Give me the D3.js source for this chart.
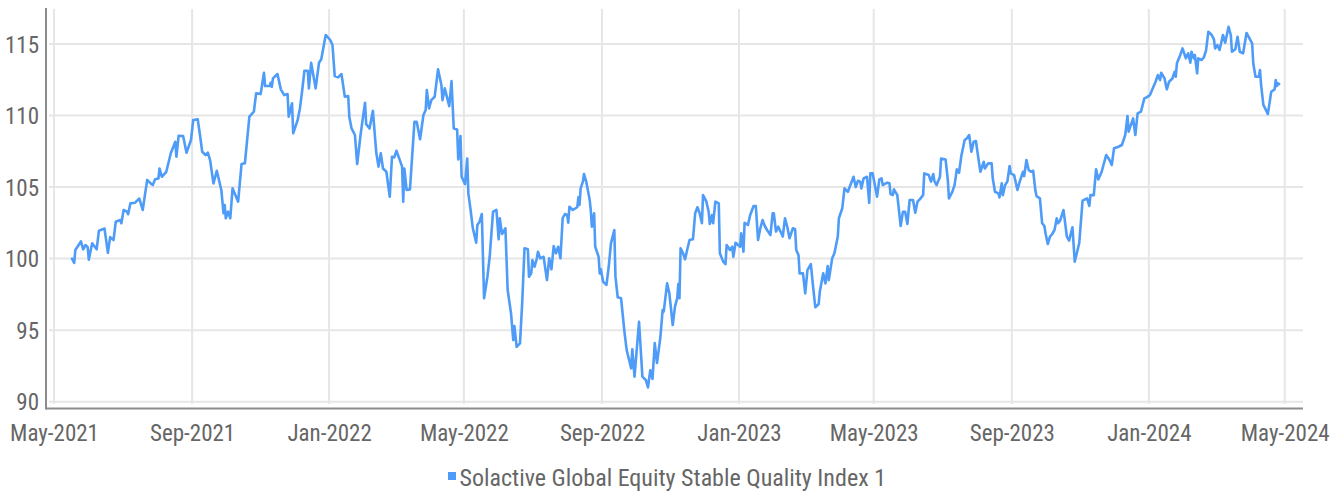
<!DOCTYPE html>
<html><head><meta charset="utf-8">
<script src="https://cdn.jsdelivr.net/npm/d3@7"></script>
<style>html,body{margin:0;padding:0;background:#fff;}svg{display:block;}</style>
</head><body><svg id="c" width="1344" height="493"></svg>
<script>
const dates = [
"2021-05-17","2021-05-19","2021-05-20","2021-05-25","2021-05-27","2021-05-29","2021-05-31","2021-06-01","2021-06-04","2021-06-08",
"2021-06-10","2021-06-15","2021-06-18","2021-06-20","2021-06-23","2021-06-25","2021-06-29","2021-06-30","2021-07-02","2021-07-05",
"2021-07-06","2021-07-08","2021-07-12","2021-07-16","2021-07-19","2021-07-23","2021-07-26","2021-07-28","2021-07-30","2021-08-02",
"2021-08-03","2021-08-05","2021-08-09","2021-08-13","2021-08-17","2021-08-18","2021-08-20","2021-08-24","2021-08-27","2021-08-31",
"2021-09-02","2021-09-06","2021-09-08","2021-09-10","2021-09-13","2021-09-15","2021-09-17","2021-09-20","2021-09-23","2021-09-27",
"2021-09-29","2021-09-30","2021-10-01","2021-10-03","2021-10-05","2021-10-07","2021-10-12","2021-10-15","2021-10-18","2021-10-22",
"2021-10-26","2021-10-28","2021-11-01","2021-11-04","2021-11-05","2021-11-09","2021-11-10","2021-11-11","2021-11-12","2021-11-16",
"2021-11-19","2021-11-22","2021-11-25","2021-11-26","2021-11-29","2021-11-30","2021-12-04","2021-12-06","2021-12-08","2021-12-10",
"2021-12-13","2021-12-14","2021-12-16","2021-12-20","2021-12-23","2021-12-25","2021-12-29","2022-01-02","2022-01-04","2022-01-06",
"2022-01-09","2022-01-12","2022-01-15","2022-01-18","2022-01-19","2022-01-21","2022-01-24","2022-01-26","2022-01-29","2022-01-31",
"2022-02-02","2022-02-03","2022-02-06","2022-02-09","2022-02-12","2022-02-14","2022-02-16","2022-02-18","2022-02-21","2022-02-24",
"2022-02-26","2022-02-28","2022-03-02","2022-03-07","2022-03-08","2022-03-09","2022-03-11","2022-03-14","2022-03-18","2022-03-20",
"2022-03-23","2022-03-26","2022-03-28","2022-03-29","2022-03-31","2022-04-02","2022-04-05","2022-04-08","2022-04-11","2022-04-12",
"2022-04-14","2022-04-18","2022-04-20","2022-04-22","2022-04-25","2022-04-26","2022-04-28","2022-04-29","2022-05-02","2022-05-04",
"2022-05-05","2022-05-07","2022-05-09","2022-05-12","2022-05-13","2022-05-15","2022-05-17","2022-05-19","2022-05-22","2022-05-24",
"2022-05-27","2022-05-30","2022-06-01","2022-06-02","2022-06-04","2022-06-07","2022-06-09","2022-06-12","2022-06-14","2022-06-15",
"2022-06-17","2022-06-20","2022-06-22","2022-06-24","2022-06-27","2022-06-28","2022-06-30","2022-07-01","2022-07-03","2022-07-05",
"2022-07-06","2022-07-08","2022-07-11","2022-07-14","2022-07-16","2022-07-18","2022-07-20","2022-07-22","2022-07-24","2022-07-26",
"2022-07-28","2022-07-30","2022-08-01","2022-08-02","2022-08-03","2022-08-06","2022-08-10","2022-08-11","2022-08-12","2022-08-13",
"2022-08-15","2022-08-16","2022-08-18","2022-08-21","2022-08-22","2022-08-23","2022-08-25","2022-08-26","2022-08-29","2022-08-30",
"2022-08-31","2022-09-02","2022-09-05","2022-09-07","2022-09-09","2022-09-12","2022-09-13","2022-09-15","2022-09-18","2022-09-21",
"2022-09-23","2022-09-27","2022-09-28","2022-09-30","2022-10-04","2022-10-07","2022-10-10","2022-10-12","2022-10-14","2022-10-16",
"2022-10-18","2022-10-20","2022-10-23","2022-10-25","2022-10-26","2022-10-29","2022-10-31","2022-11-03","2022-11-05","2022-11-07",
"2022-11-08","2022-11-09","2022-11-10","2022-11-12","2022-11-14","2022-11-16","2022-11-18","2022-11-21","2022-11-23","2022-11-25",
"2022-11-27","2022-11-29","2022-11-30","2022-12-03","2022-12-05","2022-12-06","2022-12-08","2022-12-09","2022-12-11","2022-12-14",
"2022-12-15","2022-12-18","2022-12-20","2022-12-21","2022-12-24","2022-12-26","2022-12-27","2022-12-29","2023-01-02","2023-01-03",
"2023-01-05","2023-01-06","2023-01-09","2023-01-11","2023-01-14","2023-01-16","2023-01-18","2023-01-20","2023-01-22","2023-01-24",
"2023-01-26","2023-01-29","2023-01-31","2023-02-01","2023-02-03","2023-02-05","2023-02-07","2023-02-09","2023-02-11","2023-02-13",
"2023-02-15","2023-02-18","2023-02-20","2023-02-21","2023-02-23","2023-02-24","2023-02-27","2023-03-01","2023-03-03","2023-03-06",
"2023-03-08","2023-03-10","2023-03-13","2023-03-14","2023-03-17","2023-03-19","2023-03-21","2023-03-22","2023-03-25","2023-03-27",
"2023-03-30","2023-03-31","2023-04-03","2023-04-05","2023-04-08","2023-04-13","2023-04-15","2023-04-17","2023-04-19","2023-04-20",
"2023-04-22","2023-04-25","2023-04-27","2023-04-28","2023-04-30","2023-05-04","2023-05-06","2023-05-08","2023-05-09","2023-05-13",
"2023-05-15","2023-05-16","2023-05-18","2023-05-19","2023-05-22","2023-05-25","2023-05-27","2023-05-29","2023-05-31","2023-06-02",
"2023-06-05","2023-06-07","2023-06-09","2023-06-11","2023-06-14","2023-06-15","2023-06-19","2023-06-21","2023-06-23","2023-06-24",
"2023-06-26","2023-06-29","2023-06-30","2023-07-04","2023-07-06","2023-07-07","2023-07-10","2023-07-12","2023-07-14","2023-07-16",
"2023-07-18","2023-07-21","2023-07-23","2023-07-25","2023-07-27","2023-07-29","2023-07-31","2023-08-02","2023-08-04","2023-08-07",
"2023-08-08","2023-08-11","2023-08-14","2023-08-15","2023-08-17","2023-08-20","2023-08-21","2023-08-23","2023-08-24","2023-08-26",
"2023-08-28","2023-08-30","2023-08-31","2023-09-03","2023-09-06","2023-09-08","2023-09-11","2023-09-12","2023-09-14","2023-09-16",
"2023-09-18","2023-09-20","2023-09-22","2023-09-23","2023-09-26","2023-09-28","2023-09-30","2023-10-01","2023-10-03","2023-10-05",
"2023-10-07","2023-10-09","2023-10-11","2023-10-12","2023-10-14","2023-10-17","2023-10-20","2023-10-22","2023-10-25","2023-10-27",
"2023-10-31","2023-11-03","2023-11-07","2023-11-09","2023-11-10","2023-11-13","2023-11-15","2023-11-17","2023-11-20","2023-11-24",
"2023-11-27","2023-11-29","2023-12-01","2023-12-05","2023-12-08","2023-12-11","2023-12-13","2023-12-14","2023-12-18","2023-12-20",
"2023-12-22","2023-12-25","2023-12-28","2023-12-30","2024-01-02","2024-01-07","2024-01-09","2024-01-11","2024-01-12","2024-01-15",
"2024-01-17","2024-01-19","2024-01-22","2024-01-24","2024-01-25","2024-01-26","2024-01-29","2024-01-31","2024-02-03","2024-02-05",
"2024-02-07","2024-02-08","2024-02-10","2024-02-11","2024-02-13","2024-02-14","2024-02-17","2024-02-19","2024-02-21","2024-02-23",
"2024-02-26","2024-02-28","2024-02-29","2024-03-02","2024-03-04","2024-03-07","2024-03-09","2024-03-12","2024-03-14","2024-03-15",
"2024-03-18","2024-03-20","2024-03-22","2024-03-25","2024-03-28","2024-04-02","2024-04-03","2024-04-05","2024-04-08","2024-04-09",
"2024-04-10","2024-04-12","2024-04-15","2024-04-16","2024-04-19","2024-04-22","2024-04-23","2024-04-24","2024-04-25","2024-04-26"
];
const values = [
100.0,99.7,100.6,101.2,100.65,100.95,100.8,99.93,101.07,100.65,
101.95,102.1,100.4,101.5,101.3,102.58,102.7,102.47,103.4,103.28,
103.1,103.86,103.9,104.2,103.4,105.5,105.26,105.14,105.54,105.6,
106.3,105.72,106.07,107.36,108.17,107.12,108.59,108.57,107.4,108.29,
109.69,109.73,108.64,107.47,107.24,107.4,106.89,105.26,106.14,104.8,
103.17,103.75,102.82,103.28,102.82,104.91,103.98,106.61,106.66,109.92,
110.27,111.55,111.5,112.99,112.06,112.06,112.29,112.01,112.6,112.9,
111.83,111.43,111.5,109.92,110.85,108.76,109.69,110.5,111.73,113.13,
113.13,111.9,113.69,111.9,113.69,113.93,115.63,115.28,114.93,112.76,
112.67,112.9,111.31,111.36,109.9,109.1,108.64,106.61,108.64,109.8,
110.89,109.4,109.1,110.33,107.4,106.43,107.36,106.3,106.07,104.32,
107.12,107.08,107.54,106.43,103.98,106.3,104.8,104.84,109.57,109.57,
108.34,110.04,110.39,111.78,110.5,111.08,111.31,113.23,112.13,111.08,
111.9,110.66,112.41,109.1,109.03,106.93,108.57,105.72,105.21,107.0,
104.56,103.4,102.12,101.11,102.35,102.58,103.12,97.23,98.74,100.13,
103.28,103.4,101.35,102.82,101.72,102.12,97.81,96.18,94.31,95.29,
93.84,94.08,96.99,100.72,100.65,98.74,98.97,99.9,99.43,100.02,
100.48,100.02,100.13,98.5,100.02,99.25,100.88,100.37,100.83,100.02,
102.82,103.12,103.05,102.51,103.63,103.4,103.59,104.28,103.75,104.91,
105.38,105.91,105.38,104.14,103.4,102.23,103.17,100.83,100.13,98.97,
99.25,98.39,98.16,99.43,101.07,102.0,98.74,97.3,97.23,94.9,
93.61,92.33,93.66,91.75,95.59,91.75,91.52,91.0,92.2,91.6,
94.1,92.7,94.5,96.4,96.3,98.27,97.57,95.36,96.64,97.23,
98.23,97.23,100.72,100.41,99.95,100.65,101.3,101.35,103.17,103.59,
103.17,102.47,104.44,103.98,103.28,102.42,103.05,102.47,103.98,103.86,
100.37,99.79,99.62,100.95,100.6,100.83,100.13,101.11,100.83,101.77,
100.48,102.51,102.35,103.05,103.68,103.68,101.3,102.12,102.7,102.28,
102.0,101.65,103.17,103.17,101.89,102.23,101.89,101.54,102.82,102.23,
101.42,102.12,102.05,100.6,100.25,98.97,98.97,97.57,99.2,99.62,
98.04,96.6,96.83,97.69,98.97,98.27,99.48,98.5,100.02,100.37,
101.54,102.82,103.52,104.91,104.67,105.72,105.0,105.44,105.38,104.91,
105.61,105.72,103.9,105.96,105.96,104.33,105.54,105.61,105.14,105.31,
105.26,104.51,104.44,104.84,104.44,102.28,103.28,103.28,102.42,104.1,
104.1,103.21,103.98,104.14,104.44,105.96,105.84,105.38,105.91,105.44,
105.14,105.72,107.0,106.93,105.49,104.21,104.67,105.14,106.24,106.0,
107.17,108.29,108.41,108.64,107.47,108.17,108.22,107.12,106.07,106.77,
106.3,106.66,106.66,105.61,104.67,104.56,104.28,105.26,104.44,105.14,
105.38,106.47,105.96,105.84,104.8,105.38,106.07,105.77,106.89,106.19,
106.07,106.14,104.74,104.37,104.21,102.47,102.28,101.77,101.02,101.54,
101.72,102.0,102.82,102.47,102.65,103.4,101.54,101.26,102.19,99.79,
101.07,104.05,104.21,103.68,104.44,104.44,106.24,105.54,106.07,107.24,
106.89,106.54,107.71,107.82,107.94,108.64,109.97,108.87,109.8,108.64,
110.15,110.27,111.2,111.27,111.43,112.36,112.83,112.48,112.99,112.59,
111.83,112.36,112.59,113.06,112.71,113.65,114.23,114.69,114.0,114.35,
113.69,114.46,114.0,114.23,112.95,114.0,113.88,114.07,114.58,115.86,
115.63,115.32,114.69,114.93,114.58,115.63,115.09,116.2,115.63,114.46,
114.63,115.51,114.46,114.35,115.77,115.05,113.65,112.71,112.71,113.18,
112.13,110.74,110.27,110.1,111.66,111.83,112.48,112.06,112.25,112.2
];
const yTicks = [90, 95, 100, 105, 110, 115];
const xTicks = ["2021-05-01","2021-09-01","2022-01-01","2022-05-01","2022-09-01","2023-01-01","2023-05-01","2023-09-01","2024-01-01","2024-05-01"];
const seriesName = "Solactive Global Equity Stable Quality Index 1";

const parse = d3.timeParse("%Y-%m-%d");
const data = dates.map((d, i) => ({date: parse(d), value: values[i]}));
const xTickDates = xTicks.map(parse);

const W = 1344, H = 493;
const plot = {left: 49, right: 1303, top: 9, bottom: 404};
const axisX = 46, axisY = 408.5;
const FONT = "'Liberation Sans Narrow','Roboto Condensed','DejaVu Sans Condensed',sans-serif";
const TXT = "#666666";
const GRID = "#e6e6e6";
const LINE = "#4e9cf8";

const x = d3.scaleTime().domain([xTickDates[0], xTickDates[xTickDates.length - 1]]).range([54, 1284.7]);
const y = d3.scaleLinear().domain([90, 115]).range([401.7, 44]);

const svg = d3.select("#c");
svg.append("rect").attr("width", W).attr("height", H).attr("fill", "#fff");

// grid
const grid = svg.append("g");
grid.selectAll("line.h").data(yTicks).join("line")
  .attr("x1", plot.left).attr("x2", plot.right)
  .attr("y1", d => y(d)).attr("y2", d => y(d))
  .attr("stroke", GRID).attr("stroke-width", 2);
grid.selectAll("line.v").data(xTickDates).join("line")
  .attr("x1", d => x(d)).attr("x2", d => x(d))
  .attr("y1", plot.top).attr("y2", plot.bottom)
  .attr("stroke", GRID).attr("stroke-width", 2);

// axis lines
svg.append("line").attr("x1", axisX).attr("x2", axisX).attr("y1", 8).attr("y2", axisY + 1)
  .attr("stroke", "#8c8c8c").attr("stroke-width", 2);
svg.append("line").attr("x1", axisX).attr("x2", plot.right).attr("y1", axisY).attr("y2", axisY)
  .attr("stroke", "#8c8c8c").attr("stroke-width", 2);

// x axis labels
const gx = svg.append("g").attr("transform", `translate(0,${axisY})`)
  .call(d3.axisBottom(x).tickValues(xTickDates).tickFormat(d3.timeFormat("%b-%Y")).tickSize(0).tickPadding(0));
gx.select(".domain").remove();
gx.selectAll("text").attr("y", 32.5).attr("dy", "0")
  .attr("font-family", FONT).attr("font-size", 23).attr("fill", TXT);

// y axis labels
const gy = svg.append("g").attr("transform", "translate(39,0)")
  .call(d3.axisLeft(y).tickValues(yTicks).tickFormat(d3.format("d")).tickSize(0).tickPadding(0));
gy.select(".domain").remove();
gy.selectAll("text").attr("dy", "0.36em")
  .attr("font-family", FONT).attr("font-size", 23).attr("fill", TXT);

// line
const line = d3.line().x(d => x(d.date)).y(d => y(d.value)).curve(d3.curveLinear);
svg.append("path").datum(data).attr("d", line)
  .attr("fill", "none").attr("stroke", LINE).attr("stroke-width", 2.6)
  .attr("stroke-linejoin", "round").attr("stroke-linecap", "round");

// legend
const lg = svg.append("g");
lg.append("rect").attr("x", 448).attr("y", 472).attr("width", 8).attr("height", 8).attr("fill", LINE);
lg.append("text").attr("x", 459.5).attr("y", 486).text(seriesName)
  .attr("font-family", FONT).attr("font-size", 24).attr("fill", TXT);
</script></body></html>
